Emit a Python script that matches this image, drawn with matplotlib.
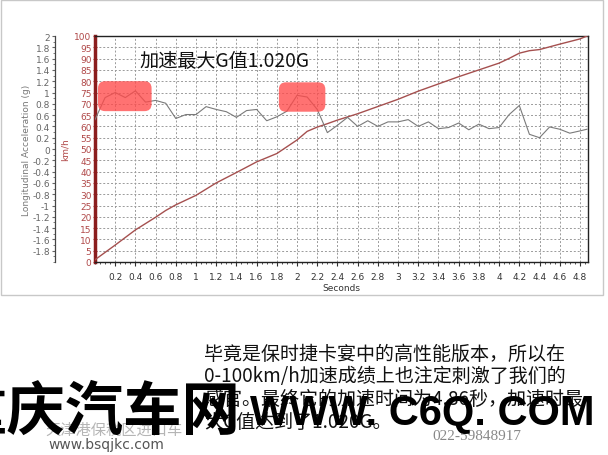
import matplotlib
matplotlib.use("Agg")
import matplotlib.pyplot as plt
from matplotlib.patches import FancyBboxPatch, Rectangle
from matplotlib.ticker import MultipleLocator, FixedLocator

# ---------------- data ----------------
accel_time = [0.0, 0.1, 0.2, 0.3, 0.4, 0.5, 0.6, 0.7, 0.8, 0.9, 1.0, 1.1, 1.2, 1.3,
              1.4, 1.5, 1.6, 1.7, 1.8, 1.9, 2.0, 2.1, 2.2, 2.3, 2.4, 2.5, 2.6, 2.7,
              2.8, 2.9, 3.0, 3.1, 3.2, 3.3, 3.4, 3.5, 3.6, 3.7, 3.8, 3.9, 4.0, 4.1,
              4.2, 4.3, 4.4, 4.5, 4.6, 4.7, 4.8, 4.87]
accel_g = [0.52, 0.91, 1.00, 0.91, 1.03, 0.83, 0.86, 0.81, 0.54, 0.61, 0.61, 0.75,
           0.70, 0.66, 0.56, 0.68, 0.70, 0.50, 0.57, 0.67, 0.95, 0.92, 0.70, 0.29,
           0.42, 0.56, 0.40, 0.50, 0.40, 0.48, 0.48, 0.52, 0.40, 0.48, 0.36, 0.38,
           0.46, 0.34, 0.44, 0.36, 0.38, 0.61, 0.77, 0.26, 0.20, 0.39, 0.35, 0.28,
           0.32, 0.35]

speed_time = [0.0, 0.2, 0.4, 0.6, 0.7, 0.8, 1.0, 1.2, 1.4, 1.6, 1.8, 1.9, 2.0, 2.1,
              2.2, 2.3, 2.4, 2.6, 2.8, 3.0, 3.2, 3.4, 3.6, 3.8, 4.0, 4.1, 4.2, 4.3,
              4.4, 4.6, 4.8, 4.87]
speed_kmh = [1.0, 7.5, 14.2, 19.8, 22.8, 25.3, 29.5, 35.0, 39.6, 44.3, 48.0, 51.0,
             54.0, 57.8, 59.7, 61.2, 62.8, 65.6, 68.8, 72.0, 75.6, 78.8, 82.0, 85.0,
             88.0, 90.1, 92.4, 93.5, 94.0, 96.4, 98.7, 100.0]

# highlighted peak windows (seconds, g)
highlight_t = [(0.03, 0.56), (1.82, 2.28)]
highlight_g = [(0.67, 1.20), (0.66, 1.18)]

x_ticks = [0.2, 0.4, 0.6, 0.8, 1.0, 1.2, 1.4, 1.6, 1.8, 2.0, 2.2, 2.4, 2.6, 2.8,
           3.0, 3.2, 3.4, 3.6, 3.8, 4.0, 4.2, 4.4, 4.6, 4.8]
x_labels = ["0.2", "0.4", "0.6", "0.8", "1", "1.2", "1.4", "1.6", "1.8", "2", "2.2",
            "2.4", "2.6", "2.8", "3", "3.2", "3.4", "3.6", "3.8", "4", "4.2", "4.4",
            "4.6", "4.8"]
g_ticks = [2, 1.8, 1.6, 1.4, 1.2, 1, 0.8, 0.6, 0.4, 0.2, 0, -0.2, -0.4, -0.6, -0.8,
           -1, -1.2, -1.4, -1.6, -1.8]
g_labels = ["2", "1.8", "1.6", "1.4", "1.2", "1", "0.8", "0.6", "0.4", "0.2", "0",
            "-0.2", "-0.4", "-0.6", "-0.8", "-1", "-1.2", "-1.4", "-1.6", "-1.8"]
speed_ticks = list(range(0, 101, 5))

title_text = "加速最大G值1.020G"
para_lines = ["毕竟是保时捷卡宴中的高性能版本，所以在",
              "0-100km/h加速成绩上也注定刺激了我们的",
              "感官。最终它的加速时间为4.86秒，加速时最",
              "大G值达到了1.020G。"]

plt.rcParams['font.family'] = ['DejaVu Sans', 'Noto Sans CJK SC']
CJK = ['Noto Sans CJK SC', 'DejaVu Sans']

fig = plt.figure(figsize=(6.08, 4.56), dpi=100)
fig.patch.set_facecolor('white')

# faint frame of the chart screenshot
fig.add_artist(Rectangle((0.002, 1 - 296 / 456), 0.99, 296 / 456 - 0.002,
                         transform=fig.transFigure, fill=False,
                         edgecolor='#c8c8c8', lw=1.0))

ax = fig.add_axes([95 / 608, 1 - 263 / 456, (588 - 95) / 608, (263 - 37) / 456])
ax.set_xlim(0, 4.88)
ax.set_ylim(0, 100)

# grid
for t in x_ticks:
    ax.axvline(t, color='#9a9a9a', lw=0.7, ls=(0, (2, 2)), zorder=0)
for v in speed_ticks[1:-1]:
    ax.axhline(v, color='#9a9a9a', lw=0.7, ls=(0, (2, 2)), zorder=0)

ax.plot(speed_time, speed_kmh, color='#a5504f', lw=1.0, zorder=3)

ax.set_yticks(speed_ticks)
ax.tick_params(axis='y', colors='#b04040', labelsize=6.5, length=3, width=0.8,
               pad=1, direction='inout')
for lab in ax.get_yticklabels():
    lab.set_color('#b04848')
ax.set_ylabel('km/h', color='#b04848', fontsize=6.5, labelpad=3)

ax.set_xticks(x_ticks)
ax.set_xticklabels(x_labels)
ax.xaxis.set_minor_locator(MultipleLocator(0.05))
ax.tick_params(axis='x', labelsize=6.5, colors='#333333', length=3, pad=4)
ax.tick_params(axis='x', which='minor', length=1.5, color='#333333')
ax.set_xlabel('Seconds', fontsize=6.5, color='#333333', labelpad=2)

ax.spines['left'].set_color('#8b1e1e')
ax.spines['left'].set_linewidth(2.5)
for s in ['right', 'top', 'bottom']:
    ax.spines[s].set_color('#222222')
    ax.spines[s].set_linewidth(1.0)

# acceleration axis
ax2 = ax.twinx()
ax2.set_ylim(-2, 2)
ax2.plot(accel_time, accel_g, color='#7a7a7a', lw=0.8, zorder=3)
for (t0, t1), (g0, g1) in zip(highlight_t, highlight_g):
    ax2.add_patch(FancyBboxPatch((t0, g0), t1 - t0, g1 - g0,
                                 boxstyle='round,pad=0,rounding_size=0.07',
                                 mutation_aspect=1.79,
                                 facecolor='#ff4a4a', edgecolor='none',
                                 alpha=0.78, zorder=4))
ax2.yaxis.set_ticks_position('left')
ax2.yaxis.set_label_position('left')
ax2.spines['left'].set_position(('outward', 29))
ax2.spines['left'].set_color('#444444')
ax2.spines['left'].set_linewidth(0.9)
for s in ['right', 'top', 'bottom']:
    ax2.spines[s].set_visible(False)
ax2.yaxis.set_major_locator(FixedLocator(g_ticks))
ax2.set_yticklabels(g_labels)
ax2.yaxis.set_minor_locator(MultipleLocator(0.1))
ax2.tick_params(axis='y', labelsize=6.5, colors='#666666', length=2.5, pad=1)
ax2.tick_params(axis='y', which='minor', length=1.2, color='#666666')
ax2.set_ylabel('Longitudinal Acceleration (g)', fontsize=6.5, color='#777777',
               labelpad=1)

ax.text(0.44, 1.56, title_text, transform=ax2.transData, fontsize=13.8,
        family=CJK, color='#111111', va='center', ha='left', zorder=6)

# paragraph text
for i, line in enumerate(para_lines):
    fig.text(204 / 608, 1 - (354 + i * 23) / 456, line, fontsize=13.7,
             family=CJK, color='#111111', va='center', ha='left')

# small logo texts
fig.text(45 / 608, 1 - 430 / 456, '天津港保税区进口车', fontsize=11, family=CJK,
         color='#b5b5b5', va='center', ha='left')
fig.text(48 / 608, 1 - 445 / 456, 'www.bsqjkc.com', fontsize=10,
         color='#555555', va='center', ha='left')
fig.text(432 / 608, 1 - 437 / 456, '022-59848917', fontsize=11,
         family=['Liberation Serif', 'DejaVu Serif'],
         color='#888888', va='center', ha='left')

# watermark
fig.text(-52 / 608, 1 - 413 / 456, '重庆汽车网', fontsize=42, family=CJK,
         fontweight='bold', color='black', va='center', ha='left')
fig.text(250 / 608, 1 - 414 / 456, 'WWW. C6Q. COM', fontsize=30,
         family=['Liberation Sans', 'DejaVu Sans'],
         fontweight='bold', color='black', va='center', ha='left')

fig.savefig('out.png', dpi=100, facecolor='white')
